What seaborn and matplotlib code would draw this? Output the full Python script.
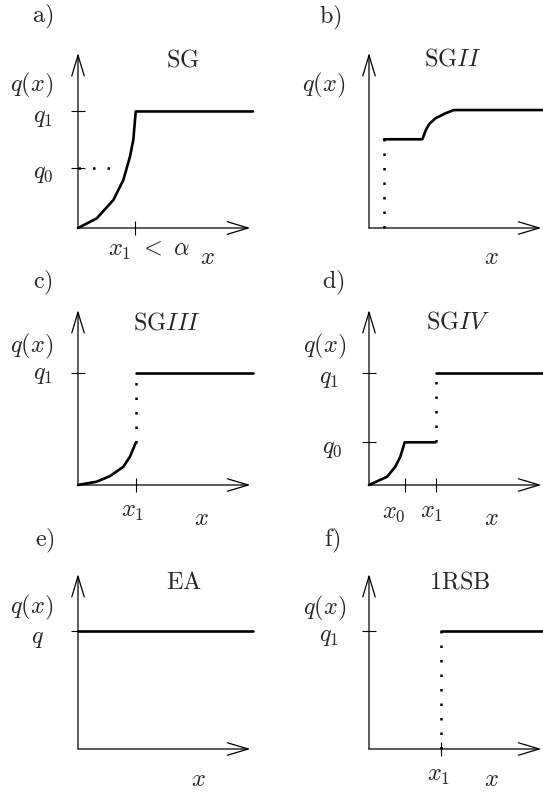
import matplotlib
matplotlib.use("Agg")
import matplotlib.pyplot as plt
import seaborn as sns

sns.set_style("white")
plt.rcParams["mathtext.fontset"] = "cm"
plt.rcParams["font.family"] = ["DejaVu Serif"]

# a) SG
sg_x = [0, 0.107, 0.202, 0.259, 0.297, 0.316, 0.33, 1.0]
sg_q = [0, 0.055, 0.16, 0.274, 0.408, 0.503, 0.666, 0.666]
sg_q1, sg_q0, sg_x1 = 0.666, 0.343, 0.326
sg_q0_end = 0.2

# b) SGII
sg2_x = [0.086, 0.305, 0.325, 0.345, 0.38, 0.436, 0.484, 1.0]
sg2_q = [0.507, 0.507, 0.56, 0.595, 0.627, 0.655, 0.674, 0.674]

# c) SGIII
sg3_x = [0, 0.107, 0.183, 0.259, 0.297, 0.33]
sg3_q = [0, 0.019, 0.051, 0.104, 0.162, 0.242]
sg3_q1, sg3_x1 = 0.64, 0.33

# d) SGIV
sg4_x = [0, 0.103, 0.15, 0.179, 0.204, 0.38]
sg4_q = [0, 0.047, 0.104, 0.162, 0.244, 0.244]
sg4_q0, sg4_q1, sg4_x0, sg4_x1 = 0.244, 0.64, 0.204, 0.38

# e) EA
ea_q = 0.674

# f) 1RSB
rsb_q1, rsb_x1 = 0.674, 0.411

W, H = 543, 794
UNIT = 175
FS = 17.5
LW = 1.9
DOTS = dict(color="k", lw=1.8, linestyle=(0, (1, 4.8)), sort=False,
            estimator=None, clip_on=False)
CURVE = dict(color="k", lw=LW, sort=False, estimator=None, clip_on=False)

fig = plt.figure(figsize=(W / 100, H / 100), dpi=100)


def make_axes(ox, oy):
    ax = fig.add_axes([ox / W, 1 - oy / H, UNIT / W, UNIT / H])
    ax.set_xlim(0, 1)
    ax.set_ylim(0, 1)
    for s in ax.spines.values():
        s.set_visible(False)
    arrow = dict(arrowstyle="->,head_length=1.5,head_width=0.45", lw=0.9,
                 color="k", shrinkA=0, shrinkB=0, mutation_scale=10)
    ax.annotate("", xy=(0.985, 0), xytext=(0, 0), arrowprops=arrow)
    ax.annotate("", xy=(0, 1.0), xytext=(0, 0), arrowprops=arrow)
    ax.tick_params(bottom=True, left=True, direction="inout", length=10,
                   width=0.8, color="k")
    ax.set_xticks([])
    ax.set_yticks([])
    return ax


def label(ax, x, y, s, **kw):
    ax.text(x, y, s, ha="center", va="center", fontsize=FS, **kw)


def set_ticks(ax, xt=(), yt=()):
    ax.set_xticks(list(xt))
    ax.set_yticks(list(yt))
    ax.set_xticklabels([])
    ax.set_yticklabels([])


# ---- a) SG
ax = make_axes(78, 228)
set_ticks(ax, [sg_x1], [sg_q1, sg_q0])
sns.lineplot(x=sg_x, y=sg_q, ax=ax, **CURVE)
sns.lineplot(x=[0, sg_q0_end], y=[sg_q0, sg_q0], ax=ax, **DOTS)
label(ax, -0.2, 1.206, r"$\mathrm{a)}$")
label(ax, 0.6, 0.96, r"$\mathrm{SG}$")
label(ax, -0.263, 0.817, r"$q(x)$")
label(ax, -0.2, sg_q1 - 0.033, r"$q_1$")
label(ax, -0.2, sg_q0 - 0.033, r"$q_0$")
label(ax, 0.406, -0.131, r"$x_1\ <\ \alpha$")
label(ax, 0.737, -0.166, r"$x$")

# ---- b) SGII
ax = make_axes(369, 228)
sns.lineplot(x=sg2_x, y=sg2_q, ax=ax, **CURVE)
sns.lineplot(x=[sg2_x[0], sg2_x[0]], y=[0, sg2_q[0]], ax=ax, **DOTS)
label(ax, -0.223, 1.2, r"$\mathrm{b)}$")
label(ax, 0.48, 0.966, r"$\mathrm{SG}\mathit{II}$")
label(ax, -0.257, 0.817, r"$q(x)$")
label(ax, 0.697, -0.166, r"$x$")

# ---- c) SGIII
ax = make_axes(78, 485)
set_ticks(ax, [sg3_x1], [sg3_q1])
sns.lineplot(x=sg3_x, y=sg3_q, ax=ax, **CURVE)
sns.lineplot(x=[sg3_x1, sg3_x1], y=[sg3_q[-1], sg3_q1], ax=ax, **DOTS)
sns.lineplot(x=[sg3_x1, 1.0], y=[sg3_q1, sg3_q1], ax=ax, **CURVE)
label(ax, -0.2, 1.154, r"$\mathrm{c)}$")
label(ax, 0.509, 0.926, r"$\mathrm{SG}\mathit{III}$")
label(ax, -0.263, 0.789, r"$q(x)$")
label(ax, -0.2, sg3_q1 - 0.011, r"$q_1$")
label(ax, 0.314, -0.154, r"$x_1$")
label(ax, 0.703, -0.189, r"$x$")

# ---- d) SGIV
ax = make_axes(369, 485)
set_ticks(ax, [sg4_x0, sg4_x1], [sg4_q1, sg4_q0])
sns.lineplot(x=sg4_x, y=sg4_q, ax=ax, **CURVE)
sns.lineplot(x=[sg4_x1, sg4_x1], y=[sg4_q0, sg4_q1], ax=ax, **DOTS)
sns.lineplot(x=[sg4_x1, 1.0], y=[sg4_q1, sg4_q1], ax=ax, **CURVE)
label(ax, -0.206, 1.154, r"$\mathrm{d)}$")
label(ax, 0.509, 0.93, r"$\mathrm{SG}\mathit{IV}$")
label(ax, -0.251, 0.789, r"$q(x)$")
label(ax, -0.229, sg4_q1 - 0.03, r"$q_1$")
label(ax, -0.211, sg4_q0 - 0.035, r"$q_0$")
label(ax, 0.143, -0.16, r"$x_0$")
label(ax, 0.36, -0.16, r"$x_1$")
label(ax, 0.697, -0.189, r"$x$")

# ---- e) EA
ax = make_axes(78, 749)
set_ticks(ax, [], [ea_q])
sns.lineplot(x=[0, 1.0], y=[ea_q, ea_q], ax=ax, **CURVE)
label(ax, -0.189, 1.189, r"$\mathrm{e)}$")
label(ax, 0.606, 0.954, r"$\mathrm{EA}$")
label(ax, -0.263, 0.811, r"$q(x)$")
label(ax, -0.229, ea_q - 0.04, r"$q$")
label(ax, 0.686, -0.177, r"$x$")

# ---- f) 1RSB
ax = make_axes(369, 749)
set_ticks(ax, [rsb_x1], [rsb_q1])
sns.lineplot(x=[rsb_x1, rsb_x1], y=[0, rsb_q1], ax=ax, **DOTS)
sns.lineplot(x=[rsb_x1, 1.0], y=[rsb_q1, rsb_q1], ax=ax, **CURVE)
label(ax, -0.211, 1.189, r"$\mathrm{f)}$")
label(ax, 0.52, 0.954, r"$\mathrm{1RSB}$")
label(ax, -0.251, 0.806, r"$q(x)$")
label(ax, -0.229, rsb_q1 - 0.034, r"$q_1$")
label(ax, 0.4, -0.149, r"$x_1$")
label(ax, 0.697, -0.177, r"$x$")

fig.savefig("out.png", dpi=100)
